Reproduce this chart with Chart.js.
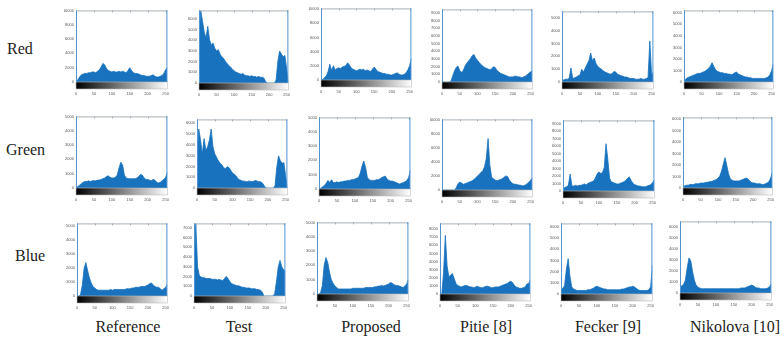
<!DOCTYPE html>
<html>
<head>
<meta charset="utf-8">
<script src="https://cdn.jsdelivr.net/npm/chart.js@4/dist/chart.umd.min.js"></script>
<style>
  body { margin: 0; background: #fff; width: 784px; height: 341px; position: relative; overflow: hidden; }
  .lbl { position: absolute; font-family: "Liberation Serif", "DejaVu Serif", serif; font-size: 16px; color: #222; white-space: nowrap; }
  .col { transform: translateX(-50%); }
</style>
</head>
<body>
<script>
// histogram bins (grey level)
const bins = [0,5,10,15,20,25,30,35,40,45,50,55,60,65,70,75,80,85,90,95,100,105,110,115,120,125,130,135,140,145,150,155,160,165,170,175,180,185,190,195,200,205,210,215,220,225,230,235,240,245,250,255];
const xTicks = [0, 50, 100, 150, 200, 250];
const methods = ['Reference', 'Test', 'Proposed', 'Pitie [8]', 'Fecker [9]', 'Nikolova [10]'];
const channels = ['Red', 'Green', 'Blue'];

// counts, as % of each panel's y range
const redReference = [0,3,7,10,11,12,12,13,13,14,14,13,15, 17,21,26,24,19,16,15,14,15,14,14,15,14, 15,14,13,16,20,16,13,12,12,11,10,9,9, 8,8,8,9,10,8,7,7,8,9,12,17,20];
const redTest = [60,100,85,70,62,78,60,52,55,48,44,46,40, 36,34,30,27,24,22,19,17,15,14,13,12,13, 11,10,10,9,10,9,9,8,9,8,8,7,2, 0,0,0,0,0,4,30,44,40,36,38,20,0];
const redProposed = [0,1,3,6,12,22,13,20,14,16,17,16,18, 19,20,24,21,17,15,14,13,14,15,14,15,13, 14,13,12,15,18,15,12,11,10,9,9,8,8, 7,7,8,9,10,8,7,7,8,10,14,20,30];
const redPitie = [0,0,0,0,0,1,8,15,20,22,16,13,16, 22,26,29,32,36,38,33,30,27,24,22,20,19, 18,17,18,21,20,16,14,12,11,10,9,8,7, 7,7,8,8,7,7,6,7,8,10,12,14,15];
const redFecker = [2,3,4,4,5,20,5,6,7,9,10,18,14, 20,25,30,41,30,34,26,22,20,18,16,14,13, 12,11,12,15,14,11,10,9,8,7,7,6,5, 5,5,4,4,4,5,4,4,5,6,58,10,14];
const redNikolova = [2,4,6,7,8,9,10,11,12,12,13,14,15, 17,19,22,27,22,17,15,14,13,13,12,12,11, 11,10,11,13,14,11,10,9,8,7,7,6,6, 5,5,5,5,5,5,5,5,6,7,10,16,25];

const greenReference = [0,2,4,6,8,9,9,10,9,10,10,10,11, 11,12,13,14,16,17,15,14,14,15,18,28,36, 32,18,14,13,13,13,13,13,14,16,19,18,14, 12,12,11,10,12,11,8,7,8,10,12,15,22];
const greenTest = [40,86,70,50,72,55,60,70,86,60,50,45,40, 36,34,30,28,31,30,26,22,20,18,14,12,11, 10,10,9,10,10,9,10,11,10,9,9,7,3, 0,0,0,0,0,3,30,47,40,36,37,18,0];
const greenProposed = [0,1,3,5,8,12,9,13,9,9,10,9,10, 10,11,11,12,12,13,13,14,15,16,22,32,39, 30,16,13,12,12,12,13,13,14,16,17,18,14, 12,11,11,10,9,8,7,8,9,10,12,16,26];
const greenPitie = [0,0,0,0,0,0,0,0,3,9,11,10,8, 9,10,11,12,13,15,17,20,22,25,27,33,45, 73,35,18,16,14,13,14,15,16,18,20,19,14, 11,9,8,8,7,7,6,6,7,9,11,14,17];
const greenFecker = [3,5,6,8,24,7,7,8,7,8,8,9,10, 9,11,12,13,14,18,24,27,25,26,33,67,45, 18,13,12,11,10,10,11,12,13,15,18,20,15, 11,9,8,7,7,6,6,6,7,8,9,12,16];
const greenNikolova = [2,3,4,4,5,5,5,6,6,6,7,7,7, 8,8,9,9,10,11,12,14,17,24,34,43,32, 20,13,11,10,10,10,10,11,12,13,14,13,10, 8,7,7,6,6,6,5,5,6,7,9,14,22];

const blueReference = [0,0,2,15,38,46,35,25,18,13,11,9,8, 8,8,8,8,8,8,9,8,9,9,9,9,9, 9,9,10,10,10,11,11,12,12,12,13,13,13, 14,15,17,18,15,13,12,12,10,8,10,12,16];
const blueTest = [30,100,40,28,26,25,25,24,24,24,23,23,23, 22,23,22,21,24,27,24,20,17,16,15,14,14, 13,12,12,11,11,11,10,10,10,9,9,8,6, 0,0,0,0,0,0,3,20,40,49,40,36,34];
const blueProposed = [0,0,2,12,40,51,44,30,20,15,11,9,7, 7,7,7,7,7,7,7,8,8,8,8,8,8, 8,9,9,9,9,9,10,10,11,11,12,11,12, 13,14,16,15,13,12,12,11,10,9,11,14,20];
const bluePitie = [0,0,30,83,40,24,27,29,22,15,12,11,10, 11,12,12,11,10,10,9,10,11,10,9,9,10, 11,11,10,9,9,10,10,10,11,12,13,14,15, 17,18,16,12,10,9,8,8,9,10,14,15,20];
const blueFecker = [6,8,12,35,50,25,10,7,6,5,5,5,5, 5,5,6,6,7,8,10,11,10,9,8,7,7, 6,6,6,6,6,6,6,6,7,7,8,9,10, 10,11,10,8,6,5,5,5,5,5,6,10,40];
const blueNikolova = [8,10,12,18,35,49,45,30,18,11,8,7,6, 6,6,6,6,6,6,6,6,6,6,6,6,6, 6,6,6,6,6,6,6,6,7,7,7,8,9, 10,11,10,8,7,7,6,6,6,6,7,9,13];

// y tick spacing per panel (same % units)
const yStepRed = [10, 14.7, 9.9, 10.6, 18.2, 16.1];
const yStepGreen = [20, 15.7, 20, 10, 10.6, 16.3];
const yStepBlue = [19.4, 13.4, 20, 11.5, 15.8, 15.3];

const series = [
  [redReference, redTest, redProposed, redPitie, redFecker, redNikolova],
  [greenReference, greenTest, greenProposed, greenPitie, greenFecker, greenNikolova],
  [blueReference, blueTest, blueProposed, bluePitie, blueFecker, blueNikolova]
];
const yStep = [yStepRed, yStepGreen, yStepBlue];

// panel frames on the page: left, top, right, baseline
const frames = [
  [[76,8,176,82], [199,8,297,83], [321,6,420,80], [442,7,541,82], [562,9,662,82], [684,8,782,82]],
  [[76,114,176,188], [197,117,296,188], [319,115,419,189], [442,117,541,190], [563,118,663,191], [683,115,781,188]],
  [[77,221,176,296], [194,221,294,296], [317,220,417,294], [440,221,539,294], [561,221,661,294], [680,219,780,293]]
];
const rowLabelPos = [[7, 40], [6, 141], [15, 247]];
const colLabelX = [128, 239, 371, 486, 608, 735];

const BLUE = 'rgb(24,114,190)';

const frameAndRamp = {
  id: 'frameAndRamp',
  afterDraw(chart) {
    const { ctx, chartArea: a } = chart;
    const w = a.right - a.left;
    ctx.save();
    // grey ramp under the axis
    const g = ctx.createLinearGradient(a.left, 0, a.right, 0);
    g.addColorStop(0, '#000');
    g.addColorStop(1, '#fff');
    ctx.fillStyle = g;
    ctx.fillRect(a.left, a.bottom, w, 7);
    ctx.strokeStyle = '#bbb';
    ctx.lineWidth = 0.6;
    ctx.strokeRect(a.left, a.bottom, w, 7);
    // box
    ctx.lineWidth = 1;
    ctx.strokeStyle = '#a8b0b8';
    ctx.beginPath();
    ctx.moveTo(a.left, a.top + 0.5);
    ctx.lineTo(a.right, a.top + 0.5);
    xTicks.forEach(v => {
      const x = Math.round(chart.scales.x.getPixelForValue(v)) + 0.5;
      ctx.moveTo(x, a.top);
      ctx.lineTo(x, a.top + 2);
    });
    ctx.stroke();
    ctx.strokeStyle = '#4f93d3';
    ctx.beginPath();
    ctx.moveTo(a.left + 0.5, a.top);
    ctx.lineTo(a.left + 0.5, a.bottom);
    ctx.moveTo(a.right - 0.5, a.top);
    ctx.lineTo(a.right - 0.5, a.bottom);
    ctx.stroke();
    ctx.restore();
  }
};

channels.forEach((name, r) => {
  const d = document.createElement('div');
  d.className = 'lbl';
  d.textContent = name;
  d.style.left = rowLabelPos[r][0] + 'px';
  d.style.top = rowLabelPos[r][1] + 'px';
  document.body.appendChild(d);
});
methods.forEach((name, c) => {
  const d = document.createElement('div');
  d.className = 'lbl col';
  d.textContent = name;
  d.style.left = colLabelX[c] + 'px';
  d.style.top = '318px';
  document.body.appendChild(d);
});

frames.forEach((row, r) => row.forEach((f, c) => {
  const [l, t, rt, b] = f;
  const W = rt - l + 16, H = b - t + 20;
  const cv = document.createElement('canvas');
  cv.width = W;
  cv.height = H;
  cv.style.cssText = `position:absolute;left:${l - 14}px;top:${t - 2}px;width:${W}px;height:${H}px`;
  document.body.appendChild(cv);
  const step = yStep[r][c];

  new Chart(cv, {
    type: 'line',
    data: {
      labels: bins,
      datasets: [{
        data: series[r][c],
        fill: 'origin',
        backgroundColor: BLUE,
        borderColor: BLUE,
        borderWidth: 0.8,
        pointRadius: 0,
        tension: 0
      }]
    },
    options: {
      responsive: false,
      animation: false,
      devicePixelRatio: 1,
      layout: { padding: { left: 2, top: 2, right: 2, bottom: 2 } },
      plugins: { legend: { display: false }, tooltip: { enabled: false } },
      scales: {
        x: {
          type: 'linear',
          min: 0,
          max: 255,
          afterFit: s => { s.height = 16; },
          afterBuildTicks: s => { s.ticks = xTicks.map(v => ({ value: v })); },
          border: { display: false },
          grid: { display: false, drawTicks: false },
          ticks: { padding: 9, font: { size: 4 }, color: '#555', maxRotation: 0 }
        },
        y: {
          min: 0,
          max: 100,
          afterFit: s => { s.width = 12; },
          afterBuildTicks: s => {
            const t = [];
            for (let i = 0; i * step <= 100.5; i++) t.push({ value: i * step });
            s.ticks = t;
          },
          border: { display: false },
          grid: { display: false, drawTicks: false },
          ticks: {
            padding: 2,
            font: { size: 4 },
            color: '#555',
            callback: v => String(Math.round(v / step) * 1000)
          }
        }
      }
    },
    plugins: [frameAndRamp]
  });
}));
</script>
</body>
</html>
